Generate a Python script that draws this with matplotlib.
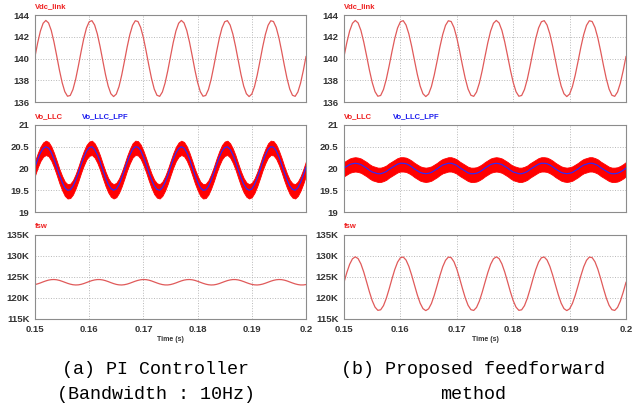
import numpy as np
import matplotlib
matplotlib.use("Agg")
import matplotlib.pyplot as plt
from matplotlib.ticker import FuncFormatter

# time axis, 0.5 ms steps
t = np.linspace(0.15, 0.2, 101)

# DC link voltage (same in both cases)
vdc_link = [140.18, 141.46, 142.53, 143.24, 143.50, 143.27, 142.58, 141.52, 140.26, 138.95,
            137.80, 136.95, 136.53, 136.60, 137.15, 138.09, 139.31, 140.62, 141.84, 142.81,
            143.38, 143.48, 143.08, 142.26, 141.12, 139.82, 138.54, 137.47, 136.76, 136.50,
            136.73, 137.42, 138.48, 139.74, 141.05, 142.20, 143.05, 143.47, 143.40, 142.85,
            141.91, 140.69, 139.38, 138.16, 137.19, 136.62, 136.52, 136.92, 137.74, 138.88,
            140.18, 141.46, 142.53, 143.24, 143.50, 143.27, 142.58, 141.52, 140.26, 138.95,
            137.80, 136.95, 136.53, 136.60, 137.15, 138.09, 139.31, 140.62, 141.84, 142.81,
            143.38, 143.48, 143.08, 142.26, 141.12, 139.82, 138.54, 137.47, 136.76, 136.50,
            136.73, 137.42, 138.48, 139.74, 141.05, 142.20, 143.05, 143.47, 143.40, 142.85,
            141.91, 140.69, 139.38, 138.16, 137.19, 136.62, 136.52, 136.92, 137.74, 138.88,
            140.18]

# filtered output voltage
vo_lpf_pi = [20.03, 20.21, 20.36, 20.46, 20.50, 20.47, 20.37, 20.22, 20.04, 19.85,
             19.69, 19.56, 19.50, 19.51, 19.59, 19.73, 19.90, 20.09, 20.26, 20.40,
             20.48, 20.50, 20.44, 20.32, 20.16, 19.97, 19.79, 19.64, 19.54, 19.50,
             19.53, 19.63, 19.78, 19.96, 20.15, 20.31, 20.44, 20.50, 20.49, 20.41,
             20.27, 20.10, 19.91, 19.74, 19.60, 19.52, 19.50, 19.56, 19.68, 19.84,
             20.03, 20.21, 20.36, 20.46, 20.50, 20.47, 20.37, 20.22, 20.04, 19.85,
             19.69, 19.56, 19.50, 19.51, 19.59, 19.73, 19.90, 20.09, 20.26, 20.40,
             20.48, 20.50, 20.44, 20.32, 20.16, 19.97, 19.79, 19.64, 19.54, 19.50,
             19.53, 19.63, 19.78, 19.96, 20.15, 20.31, 20.44, 20.50, 20.49, 20.41,
             20.27, 20.10, 19.91, 19.74, 19.60, 19.52, 19.50, 19.56, 19.68, 19.84,
             20.03]
vo_lpf_ff = [20.01, 20.05, 20.09, 20.11, 20.12, 20.11, 20.09, 20.05, 20.01, 19.96,
             19.92, 19.90, 19.88, 19.88, 19.90, 19.93, 19.98, 20.02, 20.06, 20.10,
             20.12, 20.12, 20.11, 20.08, 20.04, 19.99, 19.95, 19.91, 19.89, 19.88,
             19.89, 19.91, 19.95, 19.99, 20.04, 20.08, 20.10, 20.12, 20.12, 20.10,
             20.07, 20.02, 19.98, 19.94, 19.90, 19.88, 19.88, 19.89, 19.92, 19.96,
             20.01, 20.05, 20.09, 20.11, 20.12, 20.11, 20.09, 20.05, 20.01, 19.96,
             19.92, 19.90, 19.88, 19.88, 19.90, 19.93, 19.98, 20.02, 20.06, 20.10,
             20.12, 20.12, 20.11, 20.08, 20.04, 19.99, 19.95, 19.91, 19.89, 19.88,
             19.89, 19.91, 19.95, 19.99, 20.04, 20.08, 20.10, 20.12, 20.12, 20.10,
             20.07, 20.02, 19.98, 19.94, 19.90, 19.88, 19.88, 19.89, 19.92, 19.96,
             20.01]
# switching ripple of Vo_LLC around the filtered value
ripple_hi = 0.14
ripple_lo = 0.19

# switching frequency in kHz
fsw_pi = [123.20, 123.37, 123.59, 123.84, 124.07, 124.26, 124.37, 124.40, 124.34, 124.19,
          123.98, 123.74, 123.50, 123.30, 123.16, 123.10, 123.13, 123.25, 123.44, 123.68,
          123.92, 124.14, 124.30, 124.39, 124.39, 124.30, 124.13, 123.91, 123.66, 123.43,
          123.24, 123.13, 123.10, 123.17, 123.31, 123.52, 123.76, 124.00, 124.20, 124.34,
          124.40, 124.37, 124.25, 124.06, 123.82, 123.58, 123.36, 123.20, 123.11, 123.11,
          123.20, 123.37, 123.59, 123.84, 124.07, 124.26, 124.37, 124.40, 124.34, 124.19,
          123.98, 123.74, 123.50, 123.30, 123.16, 123.10, 123.13, 123.25, 123.44, 123.68,
          123.92, 124.14, 124.30, 124.39, 124.39, 124.30, 124.13, 123.91, 123.66, 123.43,
          123.24, 123.13, 123.10, 123.17, 123.31, 123.52, 123.76, 124.00, 124.20, 124.34,
          124.40, 124.37, 124.25, 124.06, 123.82, 123.58, 123.36, 123.20, 123.11, 123.11,
          123.20]
fsw_ff = [123.73, 126.06, 128.02, 129.33, 129.80, 129.38, 128.11, 126.18, 123.87, 121.49,
          119.37, 117.83, 117.06, 117.19, 118.18, 119.91, 122.13, 124.53, 126.77, 128.54,
          129.58, 129.76, 129.04, 127.53, 125.44, 123.07, 120.74, 118.78, 117.47, 117.00,
          117.42, 118.69, 120.62, 122.93, 125.31, 127.43, 128.97, 129.74, 129.61, 128.62,
          126.89, 124.67, 122.27, 120.03, 118.26, 117.22, 117.04, 117.76, 119.27, 121.36,
          123.73, 126.06, 128.02, 129.33, 129.80, 129.38, 128.11, 126.18, 123.87, 121.49,
          119.37, 117.83, 117.06, 117.19, 118.18, 119.91, 122.13, 124.53, 126.77, 128.54,
          129.58, 129.76, 129.04, 127.53, 125.44, 123.07, 120.74, 118.78, 117.47, 117.00,
          117.42, 118.69, 120.62, 122.93, 125.31, 127.43, 128.97, 129.74, 129.61, 128.62,
          126.89, 124.67, 122.27, 120.03, 118.26, 117.22, 117.04, 117.76, 119.27, 121.36,
          123.73]

x_ticks = [0.15, 0.16, 0.17, 0.18, 0.19, 0.2]
x_tick_labels = ["0.15", "0.16", "0.17", "0.18", "0.19", "0.2"]
vdc_ticks = [136, 138, 140, 142, 144]
vo_ticks = [19, 19.5, 20, 20.5, 21]
fsw_ticks = [115, 120, 125, 130, 135]

captions = ["(a) PI Controller\n(Bandwidth : 10Hz)", "(b) Proposed feedforward\nmethod"]

W, H = 635, 415
fig = plt.figure(figsize=(W / 100, H / 100), dpi=100)

line_red = "#e05a5a"
tick_font = dict(family="Liberation Sans", size=6.8, weight="bold", color="#333333")


def make_ax(x0, x1, y0, y1):
    ax = fig.add_axes([x0 / W, 1 - y1 / H, (x1 - x0) / W, (y1 - y0) / H])
    ax.set_xlim(0.15, 0.2)
    ax.set_xticks(x_ticks)
    ax.set_axisbelow(True)
    ax.grid(True, color="#b8b8b8", linestyle=":", linewidth=0.7)
    for s in ax.spines.values():
        s.set_color("#8c8c8c")
        s.set_linewidth(0.8)
    ax.tick_params(length=0, pad=4)
    return ax


def style_labels(ax, show_x):
    for lab in ax.get_yticklabels():
        lab.set(**tick_font)
    if show_x:
        ax.set_xticklabels(x_tick_labels)
        for lab in ax.get_xticklabels():
            lab.set(**tick_font)
        ax.set_xlabel("Time (s)", fontsize=5, fontweight="bold",
                      family="Liberation Sans", color="#333333", labelpad=2)
    else:
        ax.set_xticklabels([])


columns = [(35, 306, vo_lpf_pi, fsw_pi), (344, 626, vo_lpf_ff, fsw_ff)]

for x0, x1, vo_lpf, fsw in columns:
    # Vdc_link
    ax = make_ax(x0, x1, 15, 102)
    ax.plot(t, vdc_link, color=line_red, linewidth=0.9)
    ax.set_ylim(136, 144)
    ax.set_yticks(vdc_ticks)
    style_labels(ax, False)
    ax.text(0.0, 1.06, "Vdc_link", transform=ax.transAxes, color="#ee2020",
            fontsize=5.5, fontweight="bold", family="Liberation Sans", va="bottom")

    # Vo_LLC and Vo_LLC_LPF
    ax = make_ax(x0, x1, 125, 212)
    lpf = np.array(vo_lpf)
    ax.fill_between(t, lpf - ripple_lo, lpf + ripple_hi, color="#ff0000", linewidth=0.6,
                    edgecolor="#ff0000")
    ax.plot(t, lpf, color="#2a2aff", linewidth=0.85)
    ax.set_ylim(19, 21)
    ax.set_yticks(vo_ticks)
    ax.yaxis.set_major_formatter(FuncFormatter(lambda v, p: f"{v:g}"))
    style_labels(ax, False)
    ax.text(0.0, 1.06, "Vo_LLC", transform=ax.transAxes, color="#ee2020",
            fontsize=5.5, fontweight="bold", family="Liberation Sans", va="bottom")
    ax.text(0.175, 1.06, "Vo_LLC_LPF", transform=ax.transAxes, color="#2020ee",
            fontsize=5.5, fontweight="bold", family="Liberation Sans", va="bottom")

    # fsw
    ax = make_ax(x0, x1, 235, 319)
    ax.plot(t, fsw, color=line_red, linewidth=0.9)
    ax.set_ylim(115, 135)
    ax.set_yticks(fsw_ticks)
    ax.yaxis.set_major_formatter(FuncFormatter(lambda v, p: f"{v:g}K"))
    style_labels(ax, True)
    ax.text(0.0, 1.06, "fsw", transform=ax.transAxes, color="#ee2020",
            fontsize=5.5, fontweight="bold", family="Liberation Sans", va="bottom")

fig.text(156 / W, 1 - 382 / H, captions[0], ha="center", va="center",
         family="Liberation Mono", fontsize=13.2, linespacing=1.6)
fig.text(473 / W, 1 - 382 / H, captions[1], ha="center", va="center",
         family="Liberation Mono", fontsize=13.2, linespacing=1.6)

fig.savefig("out.png", dpi=100, facecolor="white")
